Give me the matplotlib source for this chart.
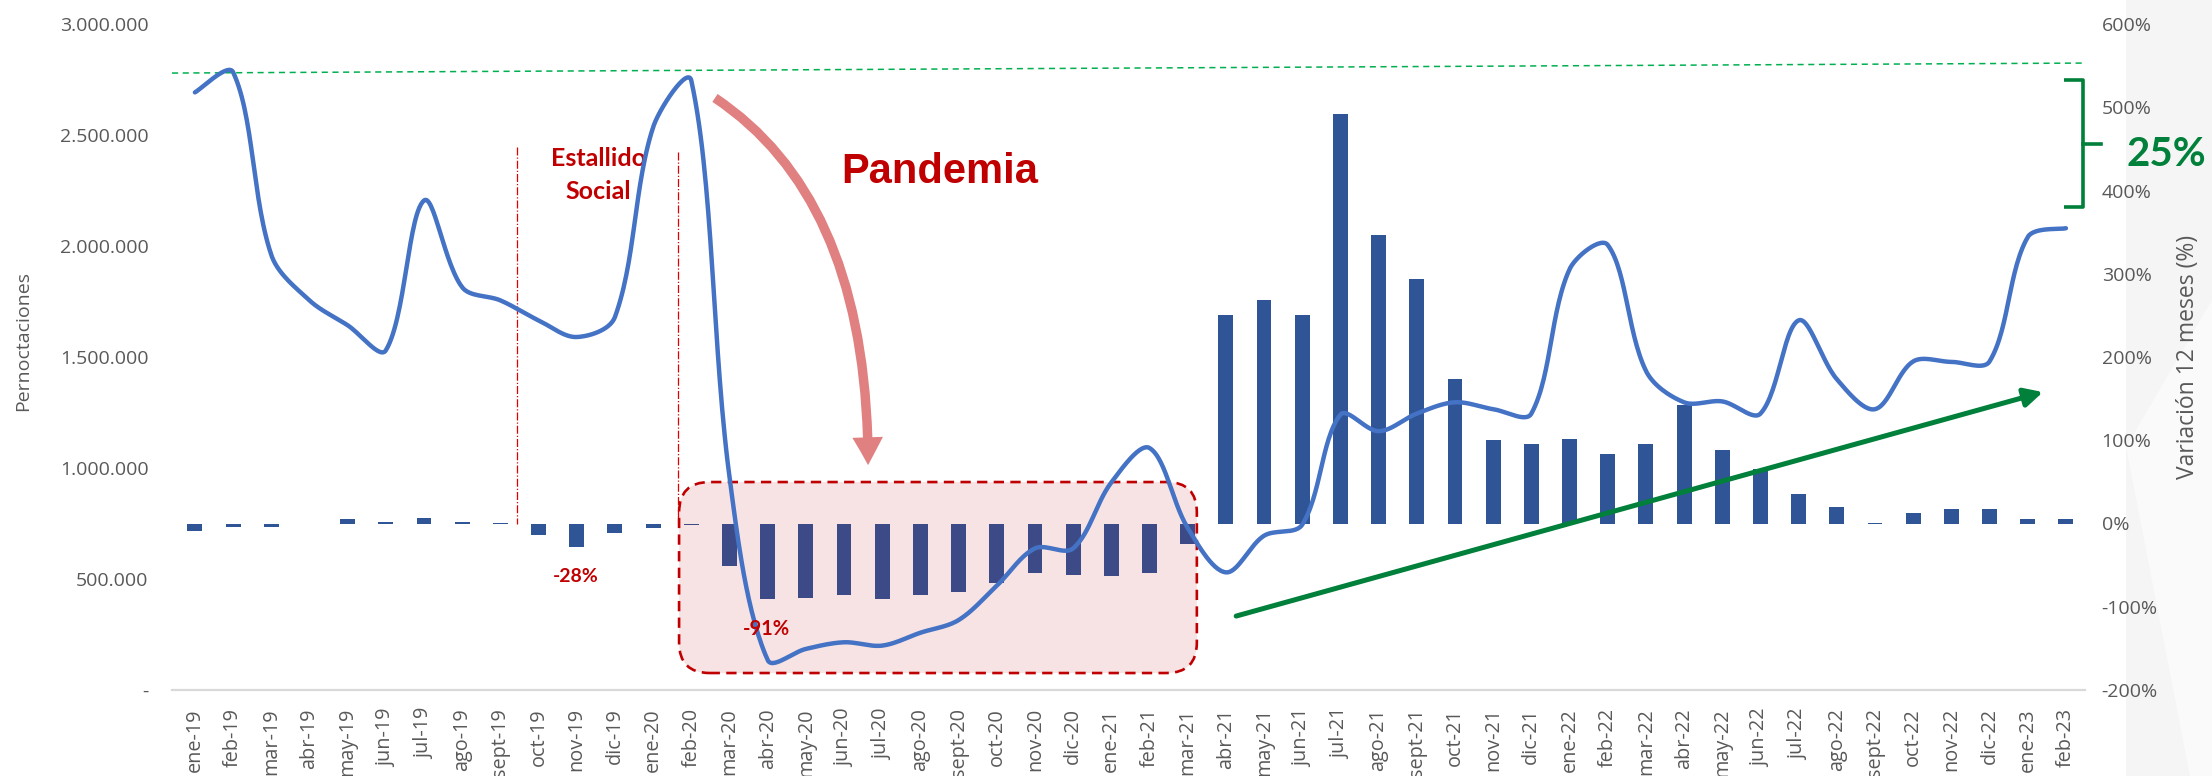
import numpy as np
import matplotlib
matplotlib.use("Agg")
import matplotlib.pyplot as plt
from matplotlib.patches import FancyBboxPatch, FancyArrowPatch, Rectangle, Polygon
from matplotlib.path import Path
from matplotlib.ticker import FuncFormatter, FixedLocator

# ---------------- data ----------------
months = ['ene-19', 'feb-19', 'mar-19', 'abr-19', 'may-19', 'jun-19', 'jul-19', 'ago-19',
          'sept-19', 'oct-19', 'nov-19', 'dic-19',
          'ene-20', 'feb-20', 'mar-20', 'abr-20', 'may-20', 'jun-20', 'jul-20', 'ago-20',
          'sept-20', 'oct-20', 'nov-20', 'dic-20',
          'ene-21', 'feb-21', 'mar-21', 'abr-21', 'may-21', 'jun-21', 'jul-21', 'ago-21',
          'sept-21', 'oct-21', 'nov-21', 'dic-21',
          'ene-22', 'feb-22', 'mar-22', 'abr-22', 'may-22', 'jun-22', 'jul-22', 'ago-22',
          'sept-22', 'oct-22', 'nov-22', 'dic-22',
          'ene-23', 'feb-23']

pernoctaciones = [2692000, 2783000, 1960000, 1755000, 1643000, 1530000, 2205000, 1814000,
                  1755000, 1665000, 1590000, 1680000,
                  2535000, 2745000, 960000, 135000, 185000, 215000, 200000, 258000,
                  315000, 470000, 638000, 638000,
                  935000, 1090000, 730000, 530000, 695000, 745000, 1240000, 1166000,
                  1245000, 1296000, 1265000, 1245000,
                  1895000, 2005000, 1438000, 1296000, 1300000, 1245000, 1665000, 1400000,
                  1265000, 1480000, 1478000, 1480000,
                  2040000, 2080000]

variacion = [-9, -4, -4, -1, 6, 2, 7, 2, 0.5, -14, -28, -12,
             -6, -2, -51, -91, -89, -86, -91, -86, -82, -71, -60, -62,
             -63, -60, -25, 250, 268, 250, 492, 346, 294, 173, 100, 96,
             102, 84, 96, 142, 88, 65, 35, 20, 1, 13, 17, 18,
             6, 5]

left_ticks = [0, 500000, 1000000, 1500000, 2000000, 2500000, 3000000]
right_ticks = [-200, -100, 0, 100, 200, 300, 400, 500, 600]

# ---------------- style ----------------
plt.rcParams['font.family'] = ['Open Sans', 'DejaVu Sans']
GRAY = '#595959'
BLUE_LINE = '#4472C4'
BAR = '#2F5597'
BAR_PAND = '#3D4A88'
RED = '#C00000'
GREEN = '#00803A'

W, H = 2212, 776
fig = plt.figure(figsize=(W / 100, H / 100), dpi=100)
fig.patch.set_facecolor('white')

# light slide background on right edge
fig.patches.append(Rectangle((2126 / W, 0), (W - 2126) / W, 1, transform=fig.transFigure,
                             fc='#F5F5F5', ec='none', zorder=-10))
fig.patches.append(Polygon([(2126 / W, 1 - 447 / H), (2190 / W, 0), (1, 0), (1, 1 - 300 / H)],
                           closed=True, transform=fig.transFigure, fc='#FAFAFA', ec='none',
                           zorder=-9))

ax = fig.add_axes([172 / W, 1 - 690 / H, (2085 - 172) / W, (690 - 24) / H])
ax2 = ax.twinx()
ax.set_zorder(ax2.get_zorder() + 1)
ax.patch.set_visible(False)
ax2.patch.set_visible(False)

x = np.arange(len(months))

# ---------------- bars (right axis) ----------------
bar_colors = [BAR_PAND if 13 <= i <= 26 else BAR for i in range(len(months))]
ax2.bar(x, variacion, width=0.39, color=bar_colors, zorder=2)
ax2.set_ylim(-200, 600)
ax2.yaxis.set_major_locator(FixedLocator(right_ticks))
ax2.yaxis.set_major_formatter(FuncFormatter(lambda v, p: f'{v:.0f}%'))

# pandemic box (right-axis coordinates)
box = FancyBboxPatch((12.68, -179.6), 26.24 - 12.68, 49.8 + 179.6,
                     boxstyle='round,pad=0,rounding_size=0.8', mutation_aspect=45.86,
                     fc='#F8E3E4', ec=RED, lw=1.9, ls=(0, (3.9, 2.4)), zorder=0.5)
ax2.add_patch(box)

# ---------------- smoothed line (left axis) ----------------
SX = 38.18            # px per month
SY = 111.0 / 500000   # px per unit


def smooth_curve(xs, ys, n=30):
    """Bezier smoothing through the points, tangents scaled by chord length (screen space)."""
    P = np.column_stack([np.asarray(xs, float) * SX, np.asarray(ys, float) * SY])
    N = len(P)
    d = np.hypot(*np.diff(P, axis=0).T)
    c_out = np.zeros_like(P)
    c_in = np.zeros_like(P)
    for i in range(N):
        if i == 0:
            c_out[i] = P[0] + (P[1] - P[0]) / 6.0
            continue
        if i == N - 1:
            c_in[i] = P[-1] - (P[-1] - P[-2]) / 6.0
            continue
        T = P[i + 1] - P[i - 1]
        a, b = d[i - 1], d[i]
        c_out[i] = P[i] + T * (b / (a + b)) / 3.0
        c_in[i] = P[i] - T * (a / (a + b)) / 3.0
    t = np.linspace(0, 1, n, endpoint=False)[:, None]
    segs = []
    for i in range(N - 1):
        p1, c1, c2, p2 = P[i], c_out[i], c_in[i + 1], P[i + 1]
        segs.append((1 - t) ** 3 * p1 + 3 * (1 - t) ** 2 * t * c1
                    + 3 * (1 - t) * t ** 2 * c2 + t ** 3 * p2)
    segs.append(P[-1:])
    out = np.vstack(segs)
    return out[:, 0] / SX, out[:, 1] / SY


cx, cy = smooth_curve(x, pernoctaciones)
ax.plot(cx, cy, color=BLUE_LINE, lw=3.2, solid_capstyle='round', zorder=3)

ax.set_ylim(0, 3000000)
ax.set_xlim(-0.6, 49.5)
ax.yaxis.set_major_locator(FixedLocator(left_ticks))
ax.yaxis.set_major_formatter(FuncFormatter(
    lambda v, p: '-' if v == 0 else f'{int(round(v)):,}'.replace(',', '.')))
ax.set_xticks(x)
ax.set_xticklabels(months, rotation=90, va='top', ha='center')

for s in ax.spines.values():
    s.set_visible(False)
for s in ax2.spines.values():
    s.set_visible(False)
ax.spines['bottom'].set_visible(True)
ax.spines['bottom'].set_color('#D9D9D9')
ax.spines['bottom'].set_linewidth(1.6)

ax.tick_params(axis='y', length=0, pad=17, labelsize=14, labelcolor=GRAY)
ax2.tick_params(axis='y', length=0, pad=12, labelsize=14, labelcolor=GRAY)
ax.tick_params(axis='x', length=0, pad=13, labelsize=14.3, labelcolor=GRAY)

fig.text(23 / W, 1 - 341 / H, 'Pernoctaciones', rotation=90, ha='center', va='center',
         fontsize=14, color=GRAY)
fig.text(2188 / W, 1 - 357 / H, 'Variación 12 meses (%)', rotation=90, ha='center',
         va='center', fontsize=16.5, color=GRAY)

# ---------------- annotations (left-axis coordinates) ----------------
# green dashed reference line
ax.plot([-0.6, 49.45], [2779000, 2824000], color='#00B050', lw=1.1, ls=(0, (4, 3)),
        zorder=2, clip_on=False)

# Estallido social vertical lines
ax.plot([8.43, 8.43], [2446000, 750000], color='#E00000', lw=0.9, ls='-.', zorder=1)
ax.plot([12.65, 12.65], [2423000, 750000], color='#E00000', lw=0.9, ls='-.', zorder=1)
ax.text(10.56, 2360000, 'Estallido', ha='center', va='baseline', fontsize=18,
        fontweight='bold', color=RED, family='Lato', zorder=1)
ax.text(10.56, 2212000, 'Social', ha='center', va='baseline', fontsize=18,
        fontweight='bold', color=RED, family='Lato', zorder=1)

# Pandemia
ax.text(19.51, 2284000, 'Pandemia', ha='center', va='baseline', fontsize=30,
        fontweight='bold', color=RED, family='Liberation Sans', zorder=4)
arrow_path = Path([(13.62, 2667000), (17.63, 2207000), (17.63, 1013000)],
                  [Path.MOVETO, Path.CURVE3, Path.CURVE3])
ax.add_patch(FancyArrowPatch(path=arrow_path,
                             arrowstyle='simple,head_length=2.0,head_width=2.2,tail_width=0.68',
                             mutation_scale=10, fc='#E08080', ec='none', zorder=4))

# percentage labels
ax.text(9.98, 486500, '-28%', ha='center', va='baseline', fontsize=14, fontweight='bold',
        color=RED, family='Lato', zorder=4)
ax.text(14.96, 247700, '-91%', ha='center', va='baseline', fontsize=14.5, fontweight='bold',
        color=RED, family='Lato', zorder=4)

# green trend arrow
ax.annotate('', xy=(48.4, 1342000), xytext=(27.27, 333000),
            arrowprops=dict(arrowstyle='-|>,head_length=0.55,head_width=0.28', lw=3.6,
                            color=GREEN, mutation_scale=20, shrinkA=0, shrinkB=0),
            zorder=4)

# bracket + 25%
ax.plot([48.95, 49.45, 49.45, 48.95], [2748000, 2748000, 2176000, 2176000], color=GREEN,
        lw=2.6, solid_joinstyle='round', solid_capstyle='butt', clip_on=False, zorder=4)
ax.plot([49.45, 49.92], [2459000, 2459000], color=GREEN, lw=2.6, clip_on=False, zorder=4)
ax.text(51.62, 2360000, '25%', ha='center', va='baseline', fontsize=29, fontweight='bold',
        color=GREEN, family='Lato', clip_on=False, zorder=4)

fig.savefig('out.png', dpi=100, facecolor='white')
